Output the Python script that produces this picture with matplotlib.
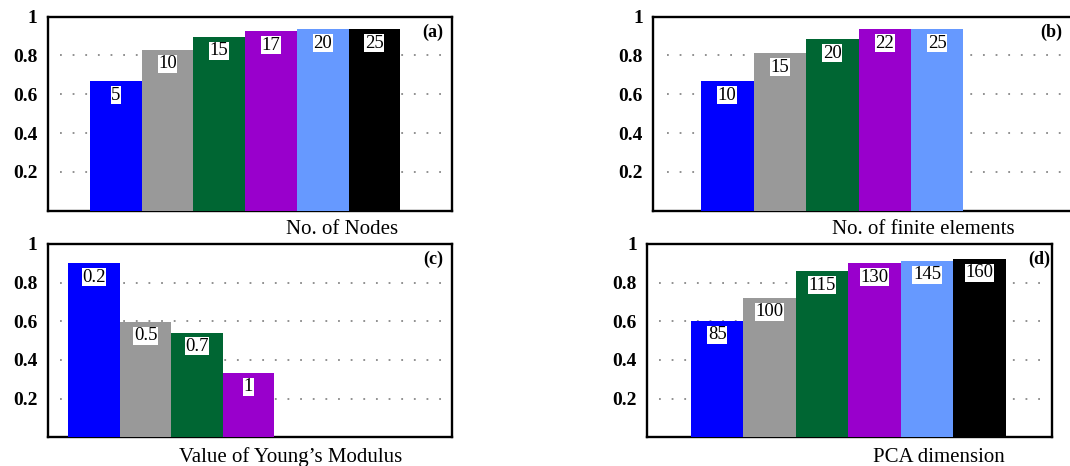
import matplotlib
matplotlib.use('Agg')
import matplotlib.pyplot as plt

plt.rcParams['font.family'] = ['Liberation Serif', 'DejaVu Serif']

# values
nodes = ['5', '10', '15', '17', '20', '25']
nodes_acc = [0.667, 0.83, 0.895, 0.925, 0.935, 0.935]

elements = ['10', '15', '20', '22', '25']
elements_acc = [0.667, 0.811, 0.883, 0.935, 0.935]

youngs = ['0.2', '0.5', '0.7', '1']
youngs_acc = [0.90, 0.597, 0.542, 0.334]

pca = ['85', '100', '115', '130', '145', '160']
pca_acc = [0.602, 0.721, 0.858, 0.90, 0.912, 0.924]

bar_colors = ['#0000ff', '#999999', '#006633', '#9900cc', '#6699ff', '#000000']
yticks = [0.2, 0.4, 0.6, 0.8, 1.0]
ytick_labels = ['0.2', '0.4', '0.6', '0.8', '1']

W, H = 1070, 466
fig = plt.figure(figsize=(W / 100, H / 100), dpi=100)


def px_axes(left, right, top, bottom):
	return fig.add_axes([left / W, (H - bottom) / H, (right - left) / W, (bottom - top) / H])


def panel(ax, labels, vals, xlim, tag, tag_x, grid_x):
	x = range(len(vals))
	ax.bar(x, vals, width=1.0, color=bar_colors[:len(vals)], linewidth=0, zorder=3)
	for i, (lab, v) in enumerate(zip(labels, vals)):
		ax.annotate(lab, xy=(i, v), xytext=(0, -10), textcoords='offset points',
			ha='center', va='center', fontsize=13.5, zorder=4,
			bbox=dict(boxstyle='square,pad=0.03', fc='white', ec='none'))

	# dotted grid, inset from the frame
	for yv in yticks[:-1]:
		ax.plot(grid_x, [yv, yv], transform=ax.get_yaxis_transform(), color='#888888',
			lw=1.3, linestyle=(0, (1, 6)), zorder=1)

	ax.set_xlim(*xlim)
	ax.set_ylim(0, 1)
	ax.set_xticks([])
	ax.set_yticks(yticks)
	ax.set_yticklabels(ytick_labels, fontsize=14, fontweight='bold')
	ax.tick_params(axis='y', length=0, pad=7.5)
	for s in ax.spines.values():
		s.set_linewidth(1.7)
	ax.text(tag_x, 0.92, tag, transform=ax.transAxes, ha='center', va='center',
		fontsize=13, fontweight='bold')


ax_a = px_axes(47.7, 451.7, 16.7, 210.7)
panel(ax_a, nodes, nodes_acc, (-1.318, 6.496), '(a)', 0.954, [0.03, 0.975])

ax_b = px_axes(653.3, 1072, 16.7, 210.7)
panel(ax_b, elements, elements_acc, (-1.409, 6.567), '(b)', 0.951, [0.032, 0.976])

ax_c = px_axes(47.7, 451.7, 244, 437.3)
panel(ax_c, youngs, youngs_acc, (-0.9, 6.945), '(c)', 0.954, [0.03, 0.975])

ax_d = px_axes(647.3, 1052.3, 244, 437.3)
panel(ax_d, pca, pca_acc, (-1.333, 6.389), '(d)', 0.967, [0.03, 0.975])

# axis titles sit off-centre, like the original
fig.text(341.7 / W, 1 - 230 / H, 'No. of Nodes', ha='center', va='center', fontsize=15)
fig.text(923.7 / W, 1 - 230 / H, 'No. of finite elements', ha='center', va='center', fontsize=15)
fig.text(290.5 / W, 1 - 456.7 / H, 'Value of Young\u2019s Modulus', ha='center', va='center', fontsize=15)
fig.text(939 / W, 1 - 457.7 / H, 'PCA dimension', ha='center', va='center', fontsize=15)

fig.savefig('out.png', dpi=100)
plt.close()
